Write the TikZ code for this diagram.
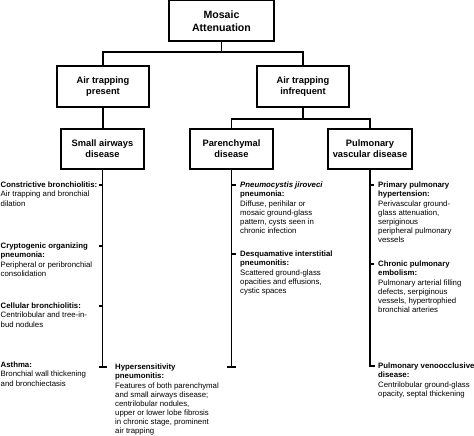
\documentclass[tikz,border=0pt]{standalone}
\usepackage{fontspec}
\setmainfont{Liberation Sans}
\begin{document}
\begin{tikzpicture}[x=1pt,y=-1pt,
  box/.style={draw,line width=1.6pt,inner sep=0pt,align=center,font=\bfseries\fontsize{9.3}{11}\selectfont},
  conn/.style={line width=1.6pt},
  desc/.style={anchor=north west,inner sep=0pt,align=left,font=\fontsize{7.8}{9.1}\selectfont},
]
\useasboundingbox (0,0) rectangle (474,436);
% boxes
\node[box,minimum width=105,minimum height=40.3,font=\bfseries\fontsize{10.6}{13}\selectfont] (mosaic) at (221.5,20.85) {Mosaic\\Attenuation};
\node[box,minimum width=92,minimum height=41] (atp) at (103,86.5) {Air trapping\\present};
\node[box,minimum width=92,minimum height=41] (ati) at (303,86.5) {Air trapping\\infrequent};
\node[box,minimum width=83,minimum height=40] (small) at (102.5,149) {Small airways\\disease};
\node[box,minimum width=83,minimum height=40] (par) at (231.5,149) {Parenchymal\\disease};
\node[box,minimum width=84,minimum height=40] (vasc) at (370,149) {Pulmonary\\vascular disease};
% connectors
\coordinate (j1) at (221.5,52);
\coordinate (j2) at (303,119);
\draw[conn] (mosaic.south) -- (j1);
\draw[conn] (atp.north) |- (j1) -| (ati.north);
\draw[conn] (ati.south) -- (j2);
\draw[conn] (par.north) |- (j2) -| (vasc.north);
\draw[conn] (atp.south) -- (atp.south |- small.north);
% vertical stems
\coordinate (sEnd) at (102.5,367);
\coordinate (pEnd) at (231.5,367);
\coordinate (vEnd) at (370,366);
\draw[conn] (small.south) -- (sEnd);
\draw[conn] ([xshift=-4]sEnd) -- ([xshift=4]sEnd);
\draw[conn] (par.south) -- (pEnd);
\draw[conn] ([xshift=-4.5]pEnd) -- ([xshift=4.5]pEnd);
\draw[conn] (vasc.south) -- (vEnd) -- ([xshift=5]vEnd);
% ticks
\foreach \yy in {185,246,306} \draw[conn] (102.5,\yy) -- ++(-4,0);
\foreach \yy in {185,254} \draw[conn] (231.5,\yy) -- ++(4,0);
\foreach \yy in {185,264} \draw[conn] (370,\yy) -- ++(4,0);
% left column
\node[desc] (n1) at (0.5,182) {\textbf{Constrictive bronchiolitis:}\\Air trapping and bronchial\\dilation};
\node[desc] (n2) at (0.5,243) {\textbf{Cryptogenic organizing}\\\textbf{pneumonia:}\\Peripheral or peribronchial\\consolidation};
\node[desc] (n3) at (0.5,303) {\textbf{Cellular bronchiolitis:}\\Centrilobular and tree-in-\\bud nodules};
\node[desc] (n4) at (0.5,362) {\textbf{Asthma:}\\Bronchial wall thickening\\and bronchiectasis};
\node[desc] (n5) at (115,364) {\textbf{Hypersensitivity}\\\textbf{pneumonitis:}\\Features of both parenchymal\\and small airways disease;\\centrilobular nodules,\\upper or lower lobe fibrosis\\in chronic stage, prominent\\air trapping};
% middle column
\node[desc] (m1) at (240,182) {\textbf{\textit{Pneumocystis jiroveci}}\\\textbf{pneumonia:}\\Diffuse, perihilar or\\mosaic ground-glass\\pattern, cysts seen in\\chronic infection};
\node[desc] (m2) at (240,251) {\textbf{Desquamative interstitial}\\\textbf{pneumonitis:}\\Scattered ground-glass\\opacities and effusions,\\cystic spaces};
% right column
\node[desc] (r1) at (378,182) {\textbf{Primary pulmonary}\\\textbf{hypertension:}\\Perivascular ground-\\glass attenuation,\\serpiginous\\peripheral pulmonary\\vessels};
\node[desc] (r2) at (378,261) {\textbf{Chronic pulmonary}\\\textbf{embolism:}\\Pulmonary arterial filling\\defects, serpiginous\\vessels, hypertrophied\\bronchial arteries};
\node[desc] (r3) at (378,363) {\textbf{Pulmonary venoocclusive}\\\textbf{disease:}\\Centrilobular ground-glass\\opacity, septal thickening};
\end{tikzpicture}
\end{document}
